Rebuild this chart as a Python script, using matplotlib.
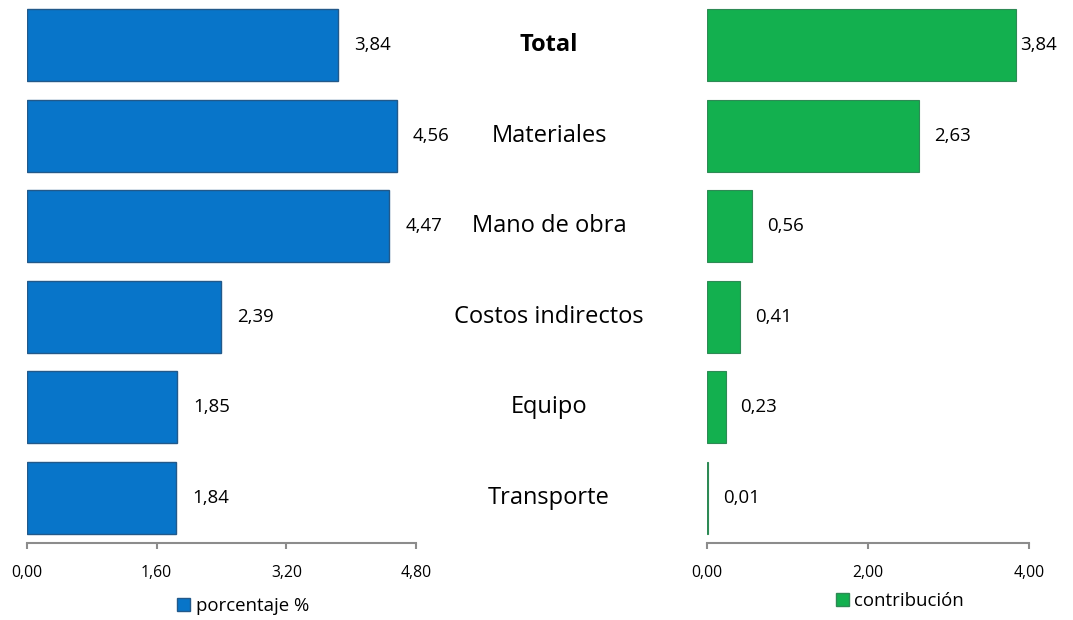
import matplotlib
matplotlib.use("Agg")
import matplotlib.pyplot as plt
from matplotlib.patches import Patch

plt.rcParams['font.family'] = ['Open Sans', 'DejaVu Sans']

categories = ['Total', 'Materiales', 'Mano de obra', 'Costos indirectos', 'Equipo', 'Transporte']
porcentaje = [3.84, 4.56, 4.47, 2.39, 1.85, 1.84]
contribucion = [3.84, 2.63, 0.56, 0.41, 0.23, 0.01]
left_ticks = [0.0, 1.6, 3.2, 4.8]
right_ticks = [0.0, 2.0, 4.0]
legend_left = 'porcentaje %'
legend_right = 'contribución'

W, H = 1073, 620
fig = plt.figure(figsize=(W / 100, H / 100), dpi=100)

ax_bottom = (H - 543) / H
ax_height = 543 / H
axL = fig.add_axes([27 / W, ax_bottom, (416 - 27) / W, ax_height])
axR = fig.add_axes([707 / W, ax_bottom, (1029 - 707) / W, ax_height])

blue_face, blue_edge = '#0875C9', '#22598A'
green_face, green_edge = '#13B04F', '#2E8A55'
axis_gray = '#8C8C8C'


def fmt(v):
    return f"{v:.2f}".replace('.', ',')


def style(ax, xmax, ticks):
    ax.set_xlim(0, xmax)
    ax.set_ylim(len(categories) - 0.5, -0.5)
    for s in ['top', 'right', 'left']:
        ax.spines[s].set_visible(False)
    ax.spines['bottom'].set_color(axis_gray)
    ax.spines['bottom'].set_linewidth(1.5)
    ax.set_yticks([])
    ax.set_xticks(ticks)
    ax.set_xticklabels([fmt(t) for t in ticks])
    ax.tick_params(axis='x', direction='out', length=4, width=1.5, color=axis_gray,
                   labelsize=11.3, pad=12, labelcolor='#000000')


ypos = list(range(len(categories)))

axL.barh(ypos, porcentaje, height=0.8, color=blue_face, edgecolor=blue_edge, linewidth=1.0)
style(axL, 4.8, left_ticks)
for y, v in zip(ypos, porcentaje):
    axL.annotate(fmt(v), (v, y), xytext=(16 * 0.72, 0), textcoords='offset points',
                 ha='left', va='center', fontsize=13.4, color='#000000')

axR.barh(ypos, contribucion, height=0.8, color=green_face, edgecolor=green_edge, linewidth=0.8)
style(axR, 4.0, right_ticks)
for y, v in zip(ypos, contribucion):
    off = 4 if v > 0.9 * 4.0 else 15
    axR.annotate(fmt(v), (v, y), xytext=(off * 0.72, 0), textcoords='offset points',
                 ha='left', va='center', fontsize=13.4, color='#000000')

# category labels in the middle
for y, c in zip(ypos, categories):
    yd = axL.transData.transform((0, y))[1]
    yf = yd / H
    fig.text(549 / W, yf, c, ha='center', va='center', fontsize=17,
             fontweight='bold' if c == 'Total' else 'normal', color='#000000')

fig.legend(handles=[Patch(facecolor=blue_face, edgecolor=blue_edge, label=legend_left)],
           loc='center', bbox_to_anchor=(243 / W, 1 - 606 / H), frameon=False,
           fontsize=13.4, handlelength=0.7, handleheight=0.7, handletextpad=0.3)
fig.legend(handles=[Patch(facecolor=green_face, edgecolor=green_edge, label=legend_right)],
           loc='center', bbox_to_anchor=(900 / W, 1 - 601 / H), frameon=False,
           fontsize=13.4, handlelength=0.7, handleheight=0.7, handletextpad=0.3)

fig.savefig('out.png', dpi=100, facecolor='white')
